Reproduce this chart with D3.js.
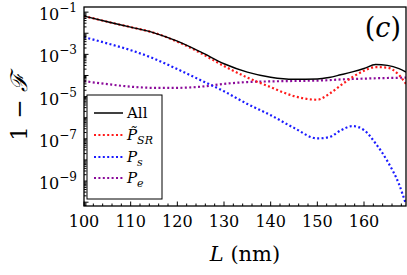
<!DOCTYPE html>
<html>
<head>
<meta charset="utf-8">
<script src="https://cdn.jsdelivr.net/npm/d3@7"></script>
<style>
  body { margin: 0; background: #fff; }
</style>
</head>
<body>
<div id="chart"></div>
<script>
// L in nm
const lengths = [100, 105, 110, 115, 120, 125, 130, 135, 140, 145, 150, 152.5, 155, 157.5, 160, 162.5, 165, 167.5, 169];
const allValues = [6.5e-2, 3.5e-2, 1.95e-2, 1.05e-2, 4.2e-3, 1.3e-3, 3.6e-4, 1.45e-4, 8.3e-5, 6.6e-5, 6.8e-5, 8.0e-5, 1.08e-4, 1.48e-4, 2.14e-4, 3.3e-4, 3.0e-4, 2.1e-4, 1.45e-4];
const srValues = [6.5e-2, 3.5e-2, 1.95e-2, 1.05e-2, 4.0e-3, 1.15e-3, 2.8e-4, 8.0e-5, 2.8e-5, 1.05e-5, 7.1e-6, 1.32e-5, 3.4e-5, 8.3e-5, 1.66e-4, 2.5e-4, 2.35e-4, 1.05e-4, 4.0e-5];
const psValues = [6.6e-3, 3.3e-3, 1.58e-3, 6.3e-4, 2.0e-4, 6.0e-5, 1.78e-5, 4.5e-6, 1.32e-6, 3.3e-7, 1.05e-7, 1.2e-7, 2.5e-7, 4.0e-7, 2.6e-7, 6.0e-8, 8.9e-9, 7.1e-10, 7.9e-11];
const peValues = [5.4e-5, 3.9e-5, 2.95e-5, 2.6e-5, 2.6e-5, 2.95e-5, 4.0e-5, 4.9e-5, 5.25e-5, 5.5e-5, 5.75e-5, 6.0e-5, 6.5e-5, 6.8e-5, 7.1e-5, 7.4e-5, 7.6e-5, 7.8e-5, 7.9e-5];

const xTicks = [100, 110, 120, 130, 140, 150, 160];
const yTickExps = [-1, -3, -5, -7, -9];

const W = 407, H = 275;
const mLeft = 84, mTop = 7, mRight = 406, mBottom = 206;
const serif = "'DejaVu Serif', 'Liberation Serif', serif";

const svg = d3.select("#chart").append("svg")
  .attr("width", W)
  .attr("height", H)
  .style("font-family", serif);

const x = d3.scaleLinear().domain([100, 169]).range([mLeft, mRight]);
const y = d3.scaleLog().domain([6.6e-11, 1.75e-1]).range([mBottom, mTop]);

svg.append("defs").append("clipPath").attr("id", "clip")
  .append("rect")
  .attr("x", mLeft).attr("y", mTop)
  .attr("width", mRight - mLeft).attr("height", mBottom - mTop);

const series = [
  { name: "All", values: allValues, color: "#000", dash: null, width: 1.4 },
  { name: "SR", values: srValues, color: "#ff1a1a", dash: "2,2.4", width: 2.2 },
  { name: "s", values: psValues, color: "#1a1aff", dash: "2,2.4", width: 2.2 },
  { name: "e", values: peValues, color: "#8b0a9a", dash: "2,2.4", width: 2.2 }
];

const line = d3.line()
  .x((d, i) => x(lengths[i]))
  .y(d => y(d))
  .curve(d3.curveMonotoneX);

const plot = svg.append("g").attr("clip-path", "url(#clip)");

// dotted series first, black on top
[series[3], series[2], series[1], series[0]].forEach(s => {
  plot.append("path")
    .datum(s.values)
    .attr("fill", "none")
    .attr("stroke", s.color)
    .attr("stroke-width", s.width)
    .attr("stroke-dasharray", s.dash)
    .attr("d", line);
});

// frame
svg.append("rect")
  .attr("x", mLeft).attr("y", mTop)
  .attr("width", mRight - mLeft).attr("height", mBottom - mTop)
  .attr("fill", "none")
  .attr("stroke", "#000")
  .attr("stroke-width", 1.3);

// x ticks (inward)
const xMinor = d3.range(100, 169, 2);
svg.append("g").selectAll("line")
  .data(xMinor)
  .enter().append("line")
  .attr("x1", d => x(d)).attr("x2", d => x(d))
  .attr("y1", mBottom).attr("y2", d => mBottom - (d % 10 === 0 ? 4.5 : 2.5))
  .attr("stroke", "#000").attr("stroke-width", 1);

svg.append("g").selectAll("text")
  .data(xTicks)
  .enter().append("text")
  .attr("x", d => x(d))
  .attr("y", 227)
  .attr("text-anchor", "middle")
  .attr("font-family", serif)
  .attr("font-size", 16)
  .text(d => d);

// y ticks: majors every decade, minors 2..9
const yMinor = [];
for (let e = -11; e <= -1; e++) {
  for (let k = 1; k <= 9; k++) {
    const v = k * Math.pow(10, e);
    if (v >= y.domain()[0] && v <= y.domain()[1]) yMinor.push({ v: v, major: k === 1 });
  }
}
svg.append("g").selectAll("line")
  .data(yMinor)
  .enter().append("line")
  .attr("x1", mLeft).attr("x2", d => mLeft + (d.major ? 4.5 : 2.5))
  .attr("y1", d => y(d.v)).attr("y2", d => y(d.v))
  .attr("stroke", "#000").attr("stroke-width", 1);

const yLab = svg.append("g").selectAll("text")
  .data(yTickExps)
  .enter().append("text")
  .attr("x", 77)
  .attr("y", d => y(Math.pow(10, d)) + 8)
  .attr("text-anchor", "end")
  .attr("font-family", serif)
  .attr("font-size", 16);
yLab.append("tspan").text("10");
yLab.append("tspan")
  .attr("font-size", 12)
  .attr("dy", -8)
  .text(d => "\u2212" + Math.abs(d));

// axis labels
svg.append("text")
  .attr("x", 245)
  .attr("y", 261)
  .attr("text-anchor", "middle")
  .attr("font-family", serif)
  .attr("font-size", 21)
  .html('<tspan font-style="italic">L</tspan> (nm)');

svg.append("text")
  .attr("transform", "translate(27,107) rotate(-90)")
  .attr("text-anchor", "middle")
  .attr("font-family", serif)
  .attr("font-size", 23)
  .html('1 \u2212 <tspan font-style="italic">\u2131</tspan>');

// panel label
svg.append("text")
  .attr("x", 401)
  .attr("y", 37)
  .attr("text-anchor", "end")
  .attr("font-family", serif)
  .attr("font-size", 27)
  .html('(<tspan font-style="italic">c</tspan>)');

// legend
const lg = svg.append("g");
lg.append("rect")
  .attr("x", 87).attr("y", 95)
  .attr("width", 75).attr("height", 104)
  .attr("fill", "#fff")
  .attr("stroke", "#000")
  .attr("stroke-width", 1);

const legendY = [113, 135, 157, 178];
series.forEach((s, i) => {
  lg.append("line")
    .attr("x1", 94).attr("x2", 123)
    .attr("y1", legendY[i]).attr("y2", legendY[i])
    .attr("stroke", s.color)
    .attr("stroke-width", s.name === "All" ? 1.5 : 2)
    .attr("stroke-dasharray", s.dash);
});
const lt = lg.selectAll("text")
  .data(series)
  .enter().append("text")
  .attr("x", 127)
  .attr("y", (d, i) => legendY[i] + 5)
  .attr("font-family", serif)
  .attr("font-size", 15);
lt.each(function(d) {
  const t = d3.select(this);
  if (d.name === "All") {
    t.text("All");
  } else {
    t.append("tspan").attr("font-style", "italic").text(d.name === "SR" ? "P\u0303" : "P");
    t.append("tspan").attr("font-style", "italic").attr("font-size", 11).attr("dy", 4).text(d.name);
  }
});
</script>
</body>
</html>
